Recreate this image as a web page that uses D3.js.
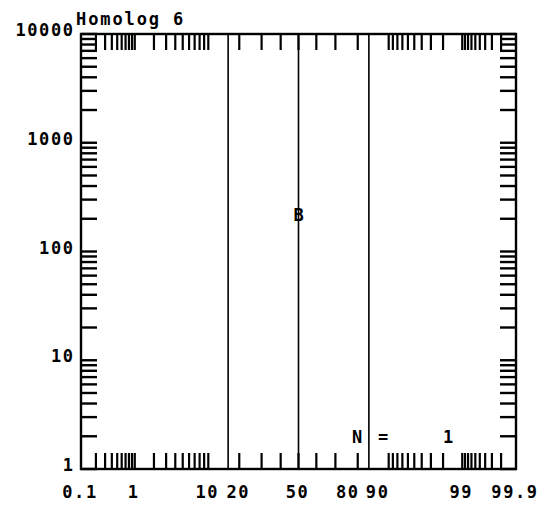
<!DOCTYPE html>
<html>
<head>
<meta charset="utf-8">
<script src="https://cdn.jsdelivr.net/npm/d3@7"></script>
<style>
  html, body { margin: 0; padding: 0; background: #fff; }
  svg { display: block; }
  text { font-family: "DejaVu Sans Mono", "Liberation Mono", monospace; font-weight: bold; fill: #000; }
</style>
</head>
<body>
<svg id="chart" width="553" height="507"></svg>
<script>
// ---- data ----
const title = "Homolog 6";
const yDecades = [1, 10, 100, 1000, 10000];
const yTickLabels = ["1", "10", "100", "1000", "10000"];
const xTickLabels = [0.1, 1, 10, 20, 50, 80, 90, 99, 99.9];
const xTickValues = [0.2,0.3,0.4,0.5,0.6,0.7,0.8,0.9,1,2,3,4,5,6,7,8,9,10,20,30,40,50,60,70,80,90,
                     91,92,93,94,95,96,97,98,99,99.1,99.2,99.3,99.4,99.5,99.6,99.7,99.8];
const refLines = [15.87, 50, 84.13];          // -1 sigma, median, +1 sigma
const pointPct = [50];
const pointValue = [215];
const pointSymbol = ["B"];
const nCount = 1;

// ---- inverse normal CDF (Acklam) ----
function probit(p) {
  const a = [-3.969683028665376e+01, 2.209460984245205e+02, -2.759285104469687e+02, 1.383577518672690e+02, -3.066479806614716e+01, 2.506628277459239e+00];
  const b = [-5.447609879822406e+01, 1.615858368580409e+02, -1.556989798598866e+02, 6.680131188771972e+01, -1.328068155288572e+01];
  const c = [-7.784894002430293e-03, -3.223964580411365e-01, -2.400758277161838e+00, -2.549732539343734e+00, 4.374664141464968e+00, 2.938163982698783e+00];
  const d = [7.784695709041462e-03, 3.224671290700398e-01, 2.445134137142996e+00, 3.754408661907416e+00];
  const pl = 0.02425, ph = 1 - pl;
  let q, r;
  if (p < pl) { q = Math.sqrt(-2*Math.log(p)); return (((((c[0]*q+c[1])*q+c[2])*q+c[3])*q+c[4])*q+c[5])/((((d[0]*q+d[1])*q+d[2])*q+d[3])*q+1); }
  if (p > ph) { q = Math.sqrt(-2*Math.log(1-p)); return -(((((c[0]*q+c[1])*q+c[2])*q+c[3])*q+c[4])*q+c[5])/((((d[0]*q+d[1])*q+d[2])*q+d[3])*q+1); }
  q = p - 0.5; r = q*q;
  return (((((a[0]*r+a[1])*r+a[2])*r+a[3])*r+a[4])*r+a[5])*q/(((((b[0]*r+b[1])*r+b[2])*r+b[3])*r+b[4])*r+1);
}

// ---- layout ----
const L = 81, R = 516, T = 34, B = 469;
const svg = d3.select("#chart");
const zs = d3.scaleLinear().domain([probit(0.001), probit(0.999)]).range([L, R]);
const x = pct => zs(probit(pct / 100));
const y = d3.scaleLog().domain([1, 10000]).range([B, T]);
const TICK = 16;

// y minor ticks (1..9 per decade)
const yTicks = [];
for (let i = 0; i < yDecades.length - 1; i++)
  for (let k = 1; k <= 9; k++) yTicks.push(yDecades[i] * k);
yTicks.push(yDecades[yDecades.length - 1]);

const g = svg.append("g");

// reference vertical lines
g.selectAll("line.ref").data(refLines).join("line")
  .attr("x1", d => x(d)).attr("x2", d => x(d))
  .attr("y1", T).attr("y2", B)
  .attr("stroke", "#000").attr("stroke-width", 1.6);

// left / right y ticks
g.selectAll("line.yl").data(yTicks).join("line")
  .attr("x1", L).attr("x2", L + TICK)
  .attr("y1", d => y(d)).attr("y2", d => y(d))
  .attr("stroke", "#000").attr("stroke-width", 2.4);
g.selectAll("line.yr").data(yTicks).join("line")
  .attr("x1", R).attr("x2", R - TICK)
  .attr("y1", d => y(d)).attr("y2", d => y(d))
  .attr("stroke", "#000").attr("stroke-width", 2.4);

// bottom / top x ticks
g.selectAll("line.xb").data(xTickValues).join("line")
  .attr("x1", d => x(d)).attr("x2", d => x(d))
  .attr("y1", B).attr("y2", B - TICK)
  .attr("stroke", "#000").attr("stroke-width", 2.2);
g.selectAll("line.xt").data(xTickValues).join("line")
  .attr("x1", d => x(d)).attr("x2", d => x(d))
  .attr("y1", T).attr("y2", T + TICK)
  .attr("stroke", "#000").attr("stroke-width", 2.2);

// frame
g.append("rect").attr("x", L).attr("y", T).attr("width", R - L).attr("height", B - T)
  .attr("fill", "none").attr("stroke", "#000").attr("stroke-width", 2.4);

const FS = 17, LS = 1.6;

// y labels
g.selectAll("text.yl").data(yDecades).join("text")
  .attr("x", 73 + LS).attr("y", d => y(d) + 2)
  .attr("text-anchor", "end")
  .style("font-size", FS + "px").style("letter-spacing", LS + "px")
  .text((d, i) => yTickLabels[i]);

// x labels
const labelShift = {80: -9, 90: -10};
g.selectAll("text.xl").data(xTickLabels).join("text")
  .attr("x", d => x(d) + (labelShift[d] || 0) - 1)
  .attr("y", 498)
  .attr("text-anchor", "middle")
  .style("font-size", FS + "px").style("letter-spacing", LS + "px")
  .text(d => String(d));

// title
g.append("text").attr("x", 76).attr("y", 24.5)
  .style("font-size", FS + "px").style("letter-spacing", "1.9px")
  .text(title);

// data point symbol
g.selectAll("text.pt").data(pointPct).join("text")
  .attr("x", d => x(d)).attr("y", (d, i) => y(pointValue[i]) + 6)
  .attr("text-anchor", "middle")
  .style("font-size", FS + "px")
  .text((d, i) => pointSymbol[i]);

// N = count
g.append("text").attr("x", 357).attr("y", 443).attr("text-anchor", "middle")
  .style("font-size", FS + "px").text("N");
g.append("text").attr("x", 383).attr("y", 443).attr("text-anchor", "middle")
  .style("font-size", FS + "px").text("=");
g.append("text").attr("x", 448).attr("y", 443).attr("text-anchor", "middle")
  .style("font-size", FS + "px").text(String(nCount));
</script>
</body>
</html>
